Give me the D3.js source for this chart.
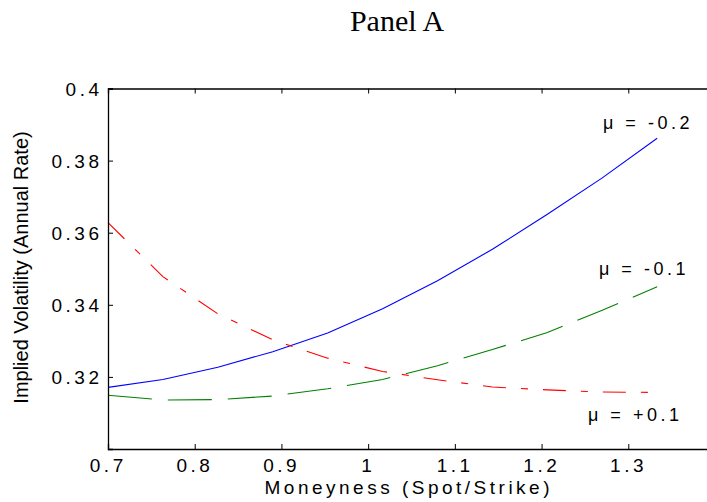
<!DOCTYPE html>
<html>
<head>
<meta charset="utf-8">
<script src="https://cdn.jsdelivr.net/npm/d3@7"></script>
<style>
  html, body { margin: 0; padding: 0; background: #fff; }
  svg { display: block; }
</style>
</head>
<body>
<script>
// ---- data ----
const moneyness = [0.7, 0.7633, 0.8267, 0.89, 0.9533, 1.0167, 1.08, 1.1433, 1.2067, 1.27, 1.3333];
const volMuMinus02 = [0.3171, 0.3193, 0.3227, 0.3270, 0.3322, 0.3389, 0.3467, 0.3554, 0.3651, 0.3752, 0.3862];
const volMuMinus01 = [0.3149, 0.3136, 0.3137, 0.3147, 0.3167, 0.3193, 0.3231, 0.3276, 0.3323, 0.3385, 0.3450];
const volMuPlus01  = [0.3628, 0.3478, 0.3375, 0.3303, 0.3252, 0.3215, 0.3192, 0.3172, 0.3164, 0.3158, 0.3157];
const seriesLabels = ["\u03bc = -0.2", "\u03bc = -0.1", "\u03bc = +0.1"];
const xTicks = [0.7, 0.8, 0.9, 1, 1.1, 1.2, 1.3];
const xTickLabels = ["0.7", "0.8", "0.9", "1", "1.1", "1.2", "1.3"];
const yTicks = [0.32, 0.34, 0.36, 0.38, 0.4];
const yTickLabels = ["0.32", "0.34", "0.36", "0.38", "0.4"];
const titleText = "Panel A";
const xTitle = "Moneyness (Spot/Strike)";
const yTitle = "Implied Volatility (Annual Rate)";

// ---- layout ----
const W = 707, H = 502;
const L = 108, R = 715, T = 88.5, B = 449;
const ls = 3.5;
const sansFont = "'Liberation Sans', Arial, Helvetica, sans-serif";

const svg = d3.select("body").append("svg").attr("width", W).attr("height", H);
svg.append("rect").attr("width", W).attr("height", H).attr("fill", "#fff");

const x = d3.scaleLinear().domain([0.7, 1.4]).range([L, R]);
const y = d3.scaleLinear().domain([0.30, 0.40]).range([B, T]);

// title
svg.append("text").attr("x", 397).attr("y", 31).attr("text-anchor", "middle")
  .attr("font-family", "'Liberation Serif', 'Times New Roman', serif").attr("font-size", 30)
  .attr("fill", "#000").text(titleText);

// curves
const series = [
  { values: volMuMinus02, color: "#0000ff", dash: null },
  { values: volMuMinus01, color: "#008000", dash: "44,16" },
  { values: volMuPlus01,  color: "#ff0000", dash: "23,15,7,15" }
];
const line = d3.line().x(d => x(d[0])).y(d => y(d[1]));
series.forEach(s => {
  svg.append("path")
    .datum(moneyness.map((m, i) => [m, s.values[i]]))
    .attr("d", line)
    .attr("fill", "none")
    .attr("stroke", s.color)
    .attr("stroke-width", 1.1)
    .attr("stroke-dasharray", s.dash);
});

// axes (MATLAB style: ticks inward)
const xAxisB = d3.axisBottom(x).tickValues(xTicks).tickSize(-5).tickFormat("");
const xAxisT = d3.axisTop(x).tickValues(xTicks).tickSize(-5).tickFormat("");
const yAxisL = d3.axisLeft(y).tickValues(yTicks).tickSize(-5).tickFormat("");
const gB = svg.append("g").attr("transform", `translate(0,${B})`).call(xAxisB);
const gT = svg.append("g").attr("transform", `translate(0,${T})`).call(xAxisT);
const gL = svg.append("g").attr("transform", `translate(${L},0)`).call(yAxisL);
[gB, gT, gL].forEach(g => {
  g.select(".domain").attr("stroke", "#000").attr("stroke-width", 1.3);
  g.selectAll(".tick line").attr("stroke", "#000").attr("stroke-width", 1);
});
gB.selectAll(".tick").filter(d => d === 0.7).remove();
gT.selectAll(".tick").filter(d => d === 0.7).remove();

// tick labels
xTicks.forEach((v, i) => {
  svg.append("text").attr("x", x(v) + ls / 2 - 1.5).attr("y", 472)
    .attr("text-anchor", "middle").attr("font-family", sansFont).attr("font-size", 19)
    .attr("letter-spacing", ls).attr("fill", "#000").text(xTickLabels[i]);
});
yTicks.forEach((v, i) => {
  svg.append("text").attr("x", 99 + ls).attr("y", y(v) + 7)
    .attr("text-anchor", "end").attr("font-family", sansFont).attr("font-size", 19)
    .attr("letter-spacing", ls).attr("fill", "#000").text(yTickLabels[i]);
});

// axis titles
svg.append("text").attr("x", 407 + ls / 2).attr("y", 494)
  .attr("text-anchor", "middle").attr("font-family", sansFont).attr("font-size", 19)
  .attr("letter-spacing", ls).attr("fill", "#000").text(xTitle);
svg.append("text").attr("transform", "translate(27.5,267.5) rotate(-90)")
  .attr("text-anchor", "middle").attr("font-family", sansFont).attr("font-size", 20)
  .attr("fill", "#000").text(yTitle);

// series labels
const labelPos = [[603, 129], [599, 275], [588, 421]];
seriesLabels.forEach((t, i) => {
  svg.append("text").attr("x", labelPos[i][0]).attr("y", labelPos[i][1])
    .attr("font-family", sansFont).attr("font-size", 18)
    .attr("letter-spacing", ls).attr("fill", "#000").text(t);
});
</script>
</body>
</html>
